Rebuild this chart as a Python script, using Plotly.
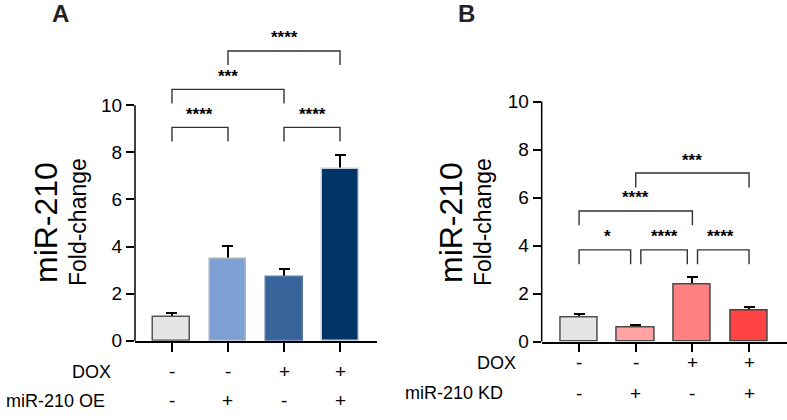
import plotly.graph_objects as go

W, H = 787, 420

# ---------------- data ----------------
positions = [0, 1, 2, 3]
a_values = [1.0, 3.46, 2.71, 7.30]
a_errors = [0.17, 0.56, 0.35, 0.59]
b_values = [1.0, 0.58, 2.39, 1.31]
b_errors = [0.14, 0.09, 0.28, 0.14]
a_dox = ["-", "-", "+", "+"]
a_oe = ["-", "+", "-", "+"]
b_dox = ["-", "-", "+", "+"]
b_kd = ["-", "+", "-", "+"]
a_brackets = [(0, 1, 9.06, "****"), (2, 3, 9.06, "****"),
              (0, 2, 10.67, "***"), (1, 3, 12.30, "****")]
b_brackets = [(0, 1, 3.82, "*"), (1, 2, 3.82, "****"), (2, 3, 3.82, "****"),
              (0, 2, 5.44, "****"), (1, 3, 7.02, "***")]
yticks = [0, 2, 4, 6, 8, 10]

# ---------------- style ----------------
FONT = "Liberation Sans, Arial, sans-serif"
a_fill = ["#e5e5e5", "#7da1d4", "#37659b", "#003366"]
a_line = ["#555555", "#aab3c2", "#5b7aa3", "#c9d0dc"]
b_fill = ["#e5e5e5", "#ffa3a3", "#ff8080", "#ff4242"]
b_line = ["#505050", "#4a4a4a", "#4a4a4a", "#444444"]
YMAX = 14


def py(p):
    return (H - p) / H


def px(p):
    return p / W


A_YDOM = [py(350), py(11.2)]
B_YDOM = [py(350.7), py(5.7)]

fig = go.Figure()

panels = [
    dict(xa="x", ya="y", vals=a_values, errs=a_errors, fill=a_fill, line=a_line,
         brackets=a_brackets, row1=a_dox, row2=a_oe, row1_name="DOX",
         row2_name="miR-210 OE", ydom=A_YDOM, xleft=px(135)),
    dict(xa="x2", ya="y2", vals=b_values, errs=b_errors, fill=b_fill, line=b_line,
         brackets=b_brackets, row1=b_dox, row2=b_kd, row1_name="DOX",
         row2_name="miR-210 KD", ydom=B_YDOM, xleft=px(541.7)),
]

for p in panels:
    # error bars on a transparent bar, drawn first so the real bar hides the lower half
    fig.add_trace(go.Bar(
        x=positions, y=p["vals"], width=0.66, xaxis=p["xa"], yaxis=p["ya"],
        marker=dict(color="rgba(0,0,0,0)", line=dict(width=0)),
        error_y=dict(type="data", array=p["errs"], symmetric=True,
                     color="black", thickness=2, width=5.5),
        showlegend=False, hoverinfo="skip"))
    fig.add_trace(go.Bar(
        x=positions, y=p["vals"], width=0.66, xaxis=p["xa"], yaxis=p["ya"],
        marker=dict(color=p["fill"], line=dict(color=p["line"], width=1.5)),
        showlegend=False, hoverinfo="skip"))
    # significance brackets
    br = p["brackets"]
    for (i, j, yv, txt) in br:
        others = [(a, b) for (a, b, y2, _) in br if y2 == yv and (a, b) != (i, j)]
        xi = i + (0.09 if any(b == i for (a, b) in others) else 0)
        xj = j - (0.09 if any(a == j for (a, b) in others) else 0)
        fig.add_trace(go.Scatter(
            x=[xi, xi, xj, xj], y=[yv - 0.6, yv, yv, yv - 0.6], mode="lines",
            line=dict(color="#333333", width=1.4), xaxis=p["xa"], yaxis=p["ya"],
            showlegend=False, hoverinfo="skip"))
        fig.add_annotation(x=(i + j) / 2, y=yv, xref=p["xa"], yref=p["ya"],
                           text="<b>%s</b>" % txt, showarrow=False,
                           yanchor="middle", yshift=13,
                           font=dict(family=FONT, size=17, color="black"))
    # y axis line stopping at the top tick
    d0, d1 = p["ydom"]
    fig.add_shape(type="line", xref="paper", yref="paper",
                  x0=p["xleft"], x1=p["xleft"], y0=d0,
                  y1=d0 + (d1 - d0) * max(yticks) / YMAX,
                  line=dict(color="black", width=1.5))

axis_common = dict(showgrid=False, zeroline=False)
fig.update_layout(
    width=W, height=H, margin=dict(l=0, r=0, t=0, b=0),
    plot_bgcolor="white", paper_bgcolor="white", bargap=0, barmode="overlay",
    font=dict(family=FONT, size=18, color="black"),
    xaxis=dict(domain=[px(135), px(377)], range=[-0.66, 3.66], anchor="y",
               showline=True, linecolor="black", linewidth=1.5, ticks="outside",
               ticklen=9, tickwidth=1.5, tickcolor="black", tickvals=positions,
               showticklabels=False, **axis_common),
    yaxis=dict(domain=A_YDOM, range=[0, YMAX], anchor="x",
               showline=False, ticks="outside", ticklen=8, tickwidth=1.5,
               tickcolor="black", tickvals=yticks,
               tickfont=dict(family=FONT, size=19, color="black"), **axis_common),
    xaxis2=dict(domain=[px(541.7), 1.0], range=[-0.66, 3.67], anchor="y2",
                showline=True, linecolor="black", linewidth=1.5, ticks="outside",
                ticklen=9, tickwidth=1.5, tickcolor="black", tickvals=positions,
                showticklabels=False, **axis_common),
    yaxis2=dict(domain=B_YDOM, range=[0, YMAX], anchor="x2",
                showline=False, ticks="outside", ticklen=8, tickwidth=1.5,
                tickcolor="black", tickvals=yticks,
                tickfont=dict(family=FONT, size=19, color="black"), **axis_common),
)

# y titles
for cx1, cx2 in [(46, 78), (451, 483)]:
    fig.add_annotation(x=px(cx1), y=py(229), xref="paper", yref="paper",
                       text="miR-210", textangle=-90, showarrow=False,
                       xanchor="center", yanchor="middle",
                       font=dict(family=FONT, size=32, color="black"))
    fig.add_annotation(x=px(cx2), y=py(228), xref="paper", yref="paper",
                       text="Fold-change", textangle=-90, showarrow=False,
                       xanchor="center", yanchor="middle",
                       font=dict(family=FONT, size=23, color="black"))

# panel letters
for lx, letter in [(60.5, "A"), (467, "B")]:
    fig.add_annotation(x=px(lx), y=py(13.5), xref="paper", yref="paper",
                       text="<b>%s</b>" % letter, showarrow=False,
                       xanchor="center", yanchor="middle",
                       font=dict(family=FONT, size=24, color="#222222"))

# condition rows
rows = [("x", panels[0], 381.7, 411.7, 113, 107),
        ("x2", panels[1], 372.3, 404.0, 518, 505)]
for xa, p, y1, y2, r1, r2 in rows:
    fig.add_annotation(x=px(r1), y=py(y1), xref="paper", yref="paper",
                       text=p["row1_name"], showarrow=False, xanchor="right",
                       yanchor="middle",
                       font=dict(family=FONT, size=18, color="black"))
    fig.add_annotation(x=px(r2), y=py(y2), xref="paper", yref="paper",
                       text=p["row2_name"], showarrow=False, xanchor="right",
                       yanchor="middle",
                       font=dict(family=FONT, size=18, color="black"))
    for k in positions:
        fig.add_annotation(x=k, y=py(y1), xref=xa, yref="paper", text=p["row1"][k],
                           showarrow=False, xanchor="center", yanchor="middle",
                           font=dict(family=FONT, size=19, color="black"))
        fig.add_annotation(x=k, y=py(y2), xref=xa, yref="paper", text=p["row2"][k],
                           showarrow=False, xanchor="center", yanchor="middle",
                           font=dict(family=FONT, size=19, color="black"))

fig.write_html("out.html")
